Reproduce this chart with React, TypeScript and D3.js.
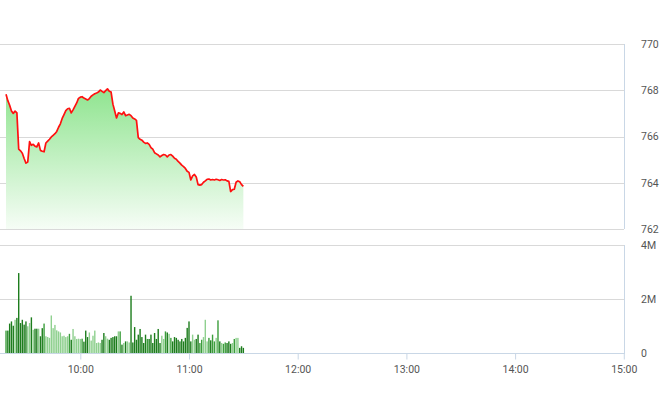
import { useEffect, useRef } from 'react';
import * as d3 from 'd3';

// trading session shown on the x axis
const sessionStart = '09:00';
const sessionEnd = '15:00';
const firstMinute = '09:19';
const hourTicks = ['10:00', '11:00', '12:00', '13:00', '14:00', '15:00'];
const priceTicks = [762, 764, 766, 768, 770];
const volumeTicks = [0, 2e6, 4e6];

// index value, one point per minute from 09:19 to 11:30
const prices = [
  767.83, 767.55, 767.35, 767.1, 767.0, 767.1, 767.02, 765.45, 765.38, 765.28,
  765.05, 764.85, 764.9, 765.78, 765.62, 765.66, 765.58, 765.55, 765.72, 765.4,
  765.36, 765.34, 765.72, 765.8, 765.88, 765.98, 766.05, 766.12, 766.22, 766.4,
  766.55, 766.78, 766.95, 767.12, 767.2, 767.22, 767.02, 767.15, 767.3, 767.45,
  767.65, 767.7, 767.72, 767.66, 767.62, 767.58, 767.64, 767.74, 767.8, 767.85,
  767.88, 767.92, 768.01, 767.95, 767.9, 767.98, 768.06, 767.96, 767.92, 767.4,
  767.1, 766.8, 767.02, 767.0, 766.95, 767.06, 766.9, 766.93, 766.96, 766.9,
  766.8, 766.76, 766.7, 765.95, 765.88, 765.84, 765.76, 765.7, 765.72, 765.66,
  765.52, 765.45, 765.3, 765.25, 765.2, 765.12, 765.18, 765.22, 765.2, 765.12,
  765.2, 765.22, 765.15, 765.06, 765.02, 764.92, 764.85, 764.76, 764.7, 764.62,
  764.5, 764.45, 764.12, 764.3, 764.36, 764.25, 763.92, 763.9, 763.92, 764.02,
  764.08, 764.15, 764.16, 764.12, 764.14, 764.12, 764.15, 764.13, 764.1, 764.14,
  764.12, 764.13, 764.08, 764.06, 763.62, 763.7, 763.72, 764.02, 764.08, 764.04,
  763.92, 763.84,
];

// traded volume per minute, in millions of shares
const volumesM = [
  0.83, 0.83, 1.09, 1.17, 1.01, 1.23, 1.3, 2.96, 1.11, 1.23,
  1.05, 1.17, 0.99, 1.11, 1.32, 0.86, 0.9, 0.9, 0.9, 0.62,
  0.92, 1.09, 0.62, 0.59, 0.56, 1.39, 0.92, 1.04, 0.84, 0.8,
  0.76, 0.62, 0.64, 0.59, 0.62, 0.71, 0.49, 0.89, 0.62, 0.52,
  0.53, 0.52, 0.53, 0.42, 0.83, 0.59, 0.76, 0.46, 0.64, 0.83,
  0.37, 0.39, 0.37, 0.49, 0.74, 0.62, 0.53, 0.49, 0.56, 0.59,
  0.62, 0.62, 0.8, 0.8, 0.31, 0.37, 0.43, 0.43, 0.39, 2.12,
  0.39, 0.96, 0.49, 0.68, 0.89, 0.59, 0.37, 0.68, 0.52, 0.52,
  0.68, 0.37, 0.74, 0.52, 0.89, 0.37, 0.64, 0.52, 0.8, 0.76,
  0.71, 0.56, 0.43, 0.59, 0.56, 0.49, 0.43, 0.52, 0.43, 0.56,
  0.93, 1.17, 0.43, 0.68, 0.49, 0.52, 0.68, 0.37, 0.49, 0.59,
  1.23, 0.43, 0.56, 0.47, 0.68, 0.43, 0.56, 1.21, 0.43, 0.37,
  0.34, 0.39, 0.37, 0.43, 0.34, 0.37, 0.52, 0.56, 0.56, 0.19,
  0.25, 0.19,
];

const parseTime = d3.timeParse('%H:%M');

export default function App() {
  const svgRef = useRef<SVGSVGElement>(null);

  useEffect(() => {
    if (!svgRef.current) return;
    const svg = d3.select(svgRef.current);
    svg.selectAll('*').remove();

    const plotRight = 624;
    const start = parseTime(firstMinute) as Date;
    const points = prices.map((v, i) => ({
      t: d3.timeMinute.offset(start, i),
      v,
      vol: volumesM[i] * 1e6,
      chg: i === 0 ? 0 : v - prices[i - 1],
    }));

    const x = d3.scaleTime()
      .domain([parseTime(sessionStart) as Date, parseTime(sessionEnd) as Date])
      .range([-28.4, 623.8]);
    const yPrice = d3.scaleLinear().domain([762, 770]).range([229, 44]);
    const yVol = d3.scaleLinear().domain([0, 4e6]).range([353, 245]);

    const font = 'Roboto, Arial, sans-serif';

    // gradient for the price area
    const defs = svg.append('defs');
    const grad = defs.append('linearGradient')
      .attr('id', 'priceFill')
      .attr('gradientUnits', 'userSpaceOnUse')
      .attr('x1', 0).attr('x2', 0)
      .attr('y1', yPrice(768.1)).attr('y2', yPrice(762));
    grad.append('stop').attr('offset', '0%').attr('stop-color', '#8fe48f');
    grad.append('stop').attr('offset', '100%').attr('stop-color', '#f6fdf6');

    // price gridlines
    svg.append('g')
      .selectAll('line')
      .data(priceTicks)
      .join('line')
      .attr('x1', 0).attr('x2', plotRight)
      .attr('y1', d => Math.round(yPrice(d)) + 0.5)
      .attr('y2', d => Math.round(yPrice(d)) + 0.5)
      .attr('stroke', '#d9d9d9');

    // volume gridlines (0 line is the x axis)
    svg.append('g')
      .selectAll('line')
      .data(volumeTicks.filter(d => d > 0))
      .join('line')
      .attr('x1', 0).attr('x2', plotRight)
      .attr('y1', d => Math.round(yVol(d)) + 0.5)
      .attr('y2', d => Math.round(yVol(d)) + 0.5)
      .attr('stroke', '#d9d9d9');

    // right borders of both panels
    svg.append('line')
      .attr('x1', plotRight + 0.5).attr('x2', plotRight + 0.5)
      .attr('y1', yPrice(770)).attr('y2', yPrice(762))
      .attr('stroke', '#c9d7e6');
    svg.append('line')
      .attr('x1', plotRight + 0.5).attr('x2', plotRight + 0.5)
      .attr('y1', yVol(4e6)).attr('y2', yVol(0))
      .attr('stroke', '#c9d7e6');

    // area + line
    const area = d3.area<typeof points[number]>()
      .x(d => x(d.t))
      .y0(yPrice(762))
      .y1(d => yPrice(d.v));
    svg.append('path')
      .datum(points)
      .attr('fill', 'url(#priceFill)')
      .attr('d', area);

    const line = d3.line<typeof points[number]>()
      .x(d => x(d.t))
      .y(d => yPrice(d.v));
    svg.append('path')
      .datum(points)
      .attr('fill', 'none')
      .attr('stroke', '#ff1010')
      .attr('stroke-width', 1.7)
      .attr('stroke-linejoin', 'round')
      .attr('d', line);

    // volume bars, shaded by the minute's price move
    const barColor = (chg: number) =>
      chg > 0.02 ? '#8fd08f' : chg < -0.02 ? '#1d7d1d' : '#3c9e3c';
    svg.append('g')
      .selectAll('rect')
      .data(points)
      .join('rect')
      .attr('x', d => x(d.t) - 0.7)
      .attr('width', 1.4)
      .attr('y', d => yVol(d.vol))
      .attr('height', d => yVol(0) - yVol(d.vol))
      .attr('fill', d => barColor(d.chg));

    // x axis
    const xAxis = svg.append('g')
      .attr('transform', `translate(0,${yVol(0) + 0.5})`)
      .call(
        d3.axisBottom(x)
          .tickValues(hourTicks.map(h => parseTime(h) as Date))
          .tickFormat(d => d3.timeFormat('%H:%M')(d as Date))
          .tickSize(6)
          .tickSizeOuter(0)
          .tickPadding(6)
      );
    xAxis.select('.domain').remove();
    xAxis.insert('line', ':first-child')
      .attr('x1', 0).attr('x2', plotRight + 1)
      .attr('stroke', '#c9d7e6');
    xAxis.selectAll('.tick line').attr('stroke', '#c9d7e6');
    xAxis.selectAll('text')
      .attr('fill', '#555')
      .attr('font-size', 10.5)
      .attr('font-family', font);

    // right axes
    const pAxis = svg.append('g')
      .attr('transform', `translate(${plotRight},0)`)
      .call(d3.axisRight(yPrice).tickValues(priceTicks).tickSize(0).tickPadding(17));
    pAxis.select('.domain').remove();

    const vAxis = svg.append('g')
      .attr('transform', `translate(${plotRight},0)`)
      .call(
        d3.axisRight(yVol)
          .tickValues(volumeTicks)
          .tickSize(0)
          .tickPadding(17)
          .tickFormat(d => (+d === 0 ? '0' : `${+d / 1e6}M`))
      );
    vAxis.select('.domain').remove();

    [pAxis, vAxis].forEach(a => {
      a.selectAll('text')
        .attr('fill', '#555')
        .attr('font-size', 10.5)
        .attr('font-family', font);
    });
  }, []);

  return (
    <svg
      ref={svgRef}
      width={660}
      height={412}
      style={{ position: 'absolute', left: 0, top: 0, background: '#fff' }}
    />
  );
}
